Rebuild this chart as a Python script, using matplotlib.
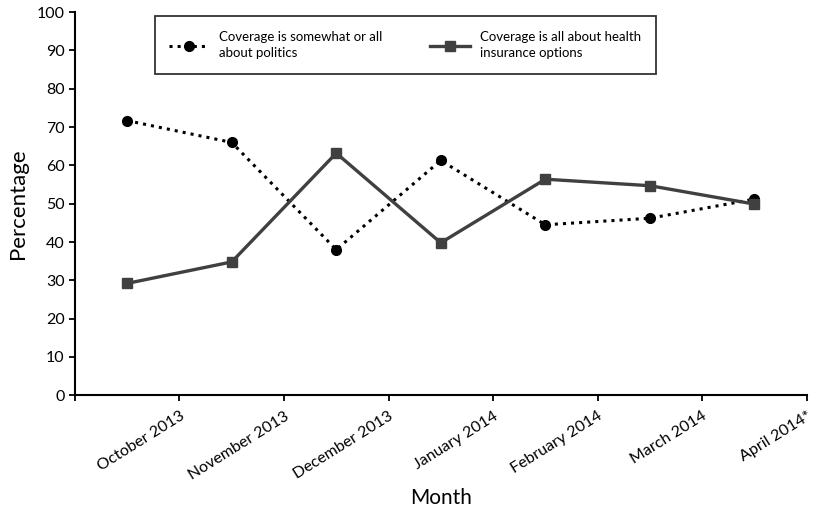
import numpy as np
import matplotlib
matplotlib.use('Agg')
import matplotlib.pyplot as plt

# --- Datos ---
meses = ['October 2013', 'November 2013', 'December 2013', 'January 2014',
         'February 2014', 'March 2014', 'April 2014*']
politica = [71.7, 66.0, 38.0, 61.3, 44.5, 46.2, 51.2]
salud = [29.2, 34.8, 63.2, 39.8, 56.4, 54.7, 49.9]
nombre_politica = 'Coverage is somewhat or all\nabout politics'
nombre_salud = 'Coverage is all about health\ninsurance options'

plt.rcParams['font.family'] = ['Lato', 'DejaVu Sans']

fig = plt.figure(figsize=(8.14, 5.08), dpi=100)
ax = fig.add_axes([0.092, 0.222, 0.899, 0.754])

x = np.arange(len(meses))
ax.plot(x, politica, color='black', linestyle=':', linewidth=2.2,
        marker='o', markersize=7, label=nombre_politica)
ax.plot(x, salud, color='#404040', linestyle='-', linewidth=2.4,
        marker='s', markersize=7, label=nombre_salud)

ax.set_xlim(-0.5, len(meses) - 0.5)
ax.set_ylim(0, 100)
ax.set_yticks(np.arange(0, 101, 10))

# --- Ticks en los limites entre categorias ---
ax.set_xticks(np.arange(-0.5, len(meses), 1.0))
ax.set_xticklabels([''] + meses, rotation=32, ha='right', rotation_mode='anchor')

ax.tick_params(axis='both', labelsize=11.5, width=1.3, length=4, color='black')
ax.tick_params(axis='x', pad=6)
for lado in ['top', 'right']:
    ax.spines[lado].set_visible(False)
for lado in ['left', 'bottom']:
    ax.spines[lado].set_linewidth(1.5)

ax.set_ylabel('Percentage', fontsize=16, labelpad=6)
ax.set_xlabel('Month', fontsize=15, labelpad=4)

leg = ax.legend(loc='center', ncol=2, mode='expand',
                bbox_to_anchor=(0.109, 0.833, 0.685, 0.162),
                fontsize=9.5, frameon=True, fancybox=False,
                handlelength=3.0, borderaxespad=0, borderpad=1.1,
                columnspacing=1.0)
for t in leg.get_texts():
    t.set_linespacing(1.45)
leg.get_frame().set_edgecolor('black')
leg.get_frame().set_linewidth(1.3)

plt.savefig('out.png', dpi=100)
